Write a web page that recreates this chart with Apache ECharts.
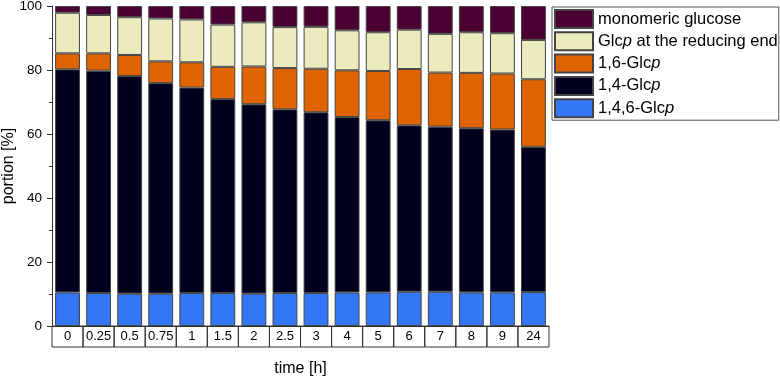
<!DOCTYPE html>
<html>
<head>
<meta charset="utf-8">
<script src="https://cdn.jsdelivr.net/npm/echarts@6/dist/echarts.min.js"></script>
<style>
  html, body { margin: 0; padding: 0; background: #fff; }
  #chart { width: 780px; height: 380px; }
</style>
</head>
<body>
<div id="chart"></div>
<script>
const times = ['0', '0.25', '0.5', '0.75', '1', '1.5', '2', '2.5', '3', '4', '5', '6', '7', '8', '9', '24']

// stacked bottom -> top
const glc146 = [10.5, 10.3, 10.1, 10.1, 10.3, 10.3, 10.1, 10.3, 10.3, 10.5, 10.5, 10.7, 10.7, 10.5, 10.5, 10.6]
const glc14 = [69.7, 69.5, 68.0, 65.8, 64.2, 60.6, 59.2, 57.4, 56.5, 54.8, 53.8, 52.0, 51.6, 51.3, 50.9, 45.4]
const glc16 = [5.0, 5.4, 6.6, 6.8, 7.9, 10.1, 11.8, 12.9, 13.6, 14.6, 15.4, 17.6, 16.9, 17.3, 17.5, 21.1]
const reducingEnd = [12.7, 12.0, 11.8, 13.4, 13.4, 13.2, 13.8, 12.8, 13.1, 12.5, 12.1, 12.3, 12.1, 12.7, 12.6, 12.3]
const monomeric = [2.1, 2.8, 3.5, 3.9, 4.2, 5.8, 5.1, 6.6, 6.5, 7.6, 8.2, 7.4, 8.7, 8.2, 8.5, 10.6]

const FONT = 'Liberation Sans, Arial, sans-serif'

const chart = echarts.init(document.getElementById('chart'))

function bar(name, data, color) {
  return {
    name: name,
    type: 'bar',
    stack: 'total',
    data: data,
    barWidth: '80%',
    itemStyle: {
      color: color,
      borderColor: '#444',
      borderWidth: 1
    }
  }
}

const option = {
  animation: false,
  textStyle: { fontFamily: FONT },
  grid: {
    left: 52,
    right: 231,
    top: 6,
    bottom: 54,
    containLabel: false,
    outerBoundsMode: 'none'
  },
  legend: {
    orient: 'vertical',
    left: 552,
    top: 7,
    padding: [2, 1, 2, 2],
    borderColor: '#555',
    borderWidth: 1,
    icon: 'rect',
    itemWidth: 38,
    itemHeight: 18,
    itemGap: 2.3,
    data: ['monomeric glucose', 'Glcp at the reducing end', '1,6-Glcp', '1,4-Glcp', '1,4,6-Glcp'],
    formatter: function (name) {
      if (name === 'monomeric glucose') return '{n|' + name + '}'
      const parts = name.split('Glcp')
      return '{n|' + parts[0] + 'Glc}{i|p}{n|' + parts[1] + '}'
    },
    textStyle: {
      fontFamily: FONT,
      fontSize: 16.5,
      lineHeight: 18,
      color: '#000',
      rich: {
        n: { fontFamily: FONT, fontSize: 16.5, lineHeight: 18, height: 18, color: '#000' },
        i: { fontFamily: FONT, fontSize: 16.5, lineHeight: 18, height: 18, color: '#000', fontStyle: 'italic' }
      }
    }
  },
  xAxis: {
    type: 'category',
    data: times,
    name: 'time [h]',
    nameLocation: 'middle',
    nameGap: 35,
    nameTextStyle: { fontFamily: FONT, fontSize: 16, color: '#000' },
    axisLine: { show: true, lineStyle: { color: '#333', width: 1 } },
    axisTick: { show: false },
    axisLabel: {
      interval: 0,
      margin: 0,
      width: 31,
      height: 21,
      lineHeight: 21,
      align: 'center',
      verticalAlign: 'top',
      borderColor: '#333',
      borderWidth: 1,
      fontFamily: FONT,
      fontSize: 13,
      color: '#000'
    }
  },
  yAxis: {
    type: 'value',
    min: 0,
    max: 100,
    interval: 20,
    name: 'portion [%]',
    nameLocation: 'middle',
    nameGap: 35,
    nameMoveOverlap: false,
    nameTextStyle: { fontFamily: FONT, fontSize: 16, color: '#000' },
    axisLine: { show: true, lineStyle: { color: '#333', width: 1 } },
    axisTick: { show: true, inside: false, length: 5, lineStyle: { color: '#333' } },
    minorTick: { show: true, splitNumber: 2, length: 3, lineStyle: { color: '#333' } },
    splitLine: { show: false },
    axisLabel: { fontFamily: FONT, fontSize: 13.5, color: '#000', margin: 10 }
  },
  series: [
    bar('1,4,6-Glcp', glc146, '#3377f6'),
    bar('1,4-Glcp', glc14, '#00001e'),
    bar('1,6-Glcp', glc16, '#df6400'),
    bar('Glcp at the reducing end', reducingEnd, '#ebebbd'),
    bar('monomeric glucose', monomeric, '#4a0030')
  ]
}

chart.setOption(option)
</script>
</body>
</html>
